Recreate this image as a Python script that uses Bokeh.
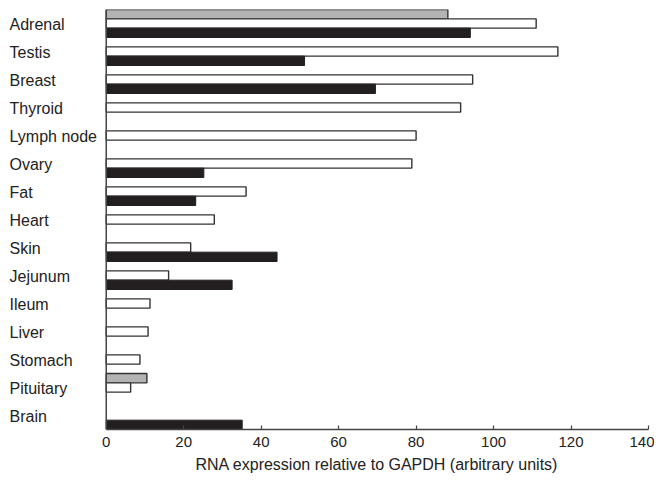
from bokeh.plotting import figure
from bokeh.models import FactorRange, Range1d, FixedTicker, Span, ColumnDataSource, Title
from bokeh.transform import dodge
from bokeh.core.properties import value
from bokeh.embed import file_html
from bokeh.resources import INLINE

# ---- data ----
tissues = ["Adrenal", "Testis", "Breast", "Thyroid", "Lymph node", "Ovary", "Fat",
           "Heart", "Skin", "Jejunum", "Ileum", "Liver", "Stomach", "Pituitary", "Brain"]
gray_vals = [88.2, None, None, None, None, None, None, None, None, None, None, None, None, 10.5, None]
white_vals = [111.0, 116.6, 94.6, 91.5, 80.0, 78.9, 36.1, 27.9, 21.8, 16.1, 11.3, 10.8, 8.7, 6.3, None]
black_vals = [94.0, 51.2, 69.5, None, None, 25.2, 23.1, None, 44.1, 32.5, None, None, None, None, 35.1]
x_ticks = [0, 20, 40, 60, 80, 100, 120, 140]
x_title = "RNA expression relative to GAPDH (arbitrary units)"

FONT = "Liberation Sans"
X_START = -27.3
X_END = 140

p = figure(width=654, height=476, output_backend="svg", toolbar_location=None,
           y_range=FactorRange(factors=list(reversed(tissues))),
           x_range=Range1d(X_START, X_END))
p.min_border_left = 0
p.min_border_right = 6
p.min_border_top = 9
p.min_border_bottom = 0
p.outline_line_color = None
p.xgrid.visible = False
p.ygrid.visible = False
p.yaxis.visible = False
p.background_fill_color = "white"
p.border_fill_color = "white"


def make_src(vals):
    t = [tt for tt, v in zip(tissues, vals) if v is not None]
    v = [v for v in vals if v is not None]
    return ColumnDataSource(dict(tissue=t, v=v))


h = 1 / 3
p.hbar(y=dodge("tissue", h, range=p.y_range), left=0, right="v", height=h,
       source=make_src(gray_vals), fill_color="#b3b3b3", line_color="#333333", line_width=1.4)
p.hbar(y=dodge("tissue", 0, range=p.y_range), left=0, right="v", height=h,
       source=make_src(white_vals), fill_color="white", line_color="#333333", line_width=1.4)
p.hbar(y=dodge("tissue", -h, range=p.y_range), left=0, right="v", height=h,
       source=make_src(black_vals), fill_color="#231f20", line_color="#231f20", line_width=1)

# vertical axis line at x = 0
p.add_layout(Span(location=0, dimension="height", line_color="#444444", line_width=1.5))

# category labels, left aligned
lab_src = ColumnDataSource(dict(tissue=tissues, x=[X_START] * len(tissues)))
p.text(x="x", y="tissue", text="tissue", source=lab_src, x_offset=9, y_offset=1,
       text_align="left", text_baseline="middle",
       text_font=value(FONT), text_font_size="16px", text_color="#222222")

ax = p.xaxis[0]
ax.ticker = FixedTicker(ticks=x_ticks)
ax.bounds = (0, 140)
ax.axis_line_color = "#444444"
ax.axis_line_width = 1.5
ax.major_tick_line_color = "#444444"
ax.major_tick_line_width = 1.2
ax.major_tick_in = 4
ax.major_tick_out = 0
ax.minor_tick_line_color = None
ax.major_label_standoff = 7
ax.major_label_text_font = FONT
ax.major_label_text_font_size = "15px"
ax.major_label_text_color = "#222222"

t = Title(text=x_title, align="left", offset=195, standoff=8,
          text_font=FONT, text_font_size="16px", text_font_style="normal",
          text_color="#222222")
p.add_layout(t, "below")

open("out.html", "w").write(file_html(p, INLINE))
